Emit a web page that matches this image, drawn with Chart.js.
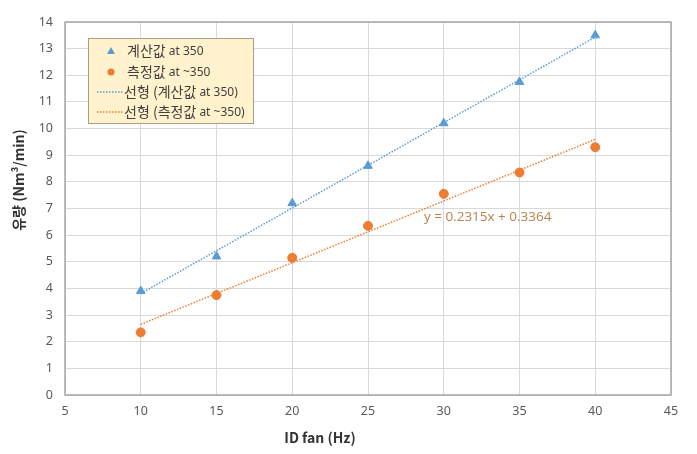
<!DOCTYPE html>
<html>
<head>
<meta charset="utf-8">
<script src="https://cdn.jsdelivr.net/npm/chart.js@4/dist/chart.umd.min.js"></script>
<style>
html,body{margin:0;padding:0;background:#fff;}
#wrap{width:697px;height:454px;position:relative;}
</style>
</head>
<body>
<div id="wrap"><canvas id="c" width="697" height="454"></canvas></div>
<script>
// ---- data ----
const fanHz = [10, 15, 20, 25, 30, 35, 40];
const calcValues = [3.9, 5.2, 7.2, 8.6, 10.2, 11.75, 13.5];   // 계산값 at 350
const measValues = [2.35, 3.75, 5.15, 6.35, 7.55, 8.35, 9.3]; // 측정값 at ~350
const xTicks = [5, 10, 15, 20, 25, 30, 35, 40, 45];
const yTicks = [0,1,2,3,4,5,6,7,8,9,10,11,12,13,14];
const measSlope = 0.2315;
const measIntercept = 0.3364;
const eqLabel = 'y = 0.2315x + 0.3364';
const seriesNames = ['계산값 at 350', '측정값 at ~350', '선형 (계산값 at 350)', '선형 (측정값 at ~350)'];

const BLUE = '#5B9BD5', ORANGE = '#ED7D31';

function linfit(xs, ys){
  const n = xs.length;
  const mx = xs.reduce((a,b)=>a+b,0)/n, my = ys.reduce((a,b)=>a+b,0)/n;
  let sxy=0, sxx=0;
  for(let i=0;i<n;i++){ sxy+=(xs[i]-mx)*(ys[i]-my); sxx+=(xs[i]-mx)**2; }
  const m = sxy/sxx; return {m, b: my-m*mx};
}
const calcFit = linfit(fanHz, calcValues);
const xMin = fanHz[0], xMax = fanHz[fanHz.length-1];

const legendPlugin = {
  id:'customLegend',
  afterDraw(chart){
    const ctx = chart.ctx;
    ctx.save();
    const bx=88, by=38, bw=165, bh=85;
    ctx.fillStyle='#FFF2CC';
    ctx.fillRect(bx,by,bw,bh);
    ctx.strokeStyle='#A69F88';
    ctx.lineWidth=1;
    ctx.strokeRect(bx+0.5,by+0.5,bw,bh);
    const rows=[51,72,92,112];
    const items=[
      {kind:'tri',color:BLUE,ko:'계산값',rest:' at 350'},
      {kind:'dot',color:ORANGE,ko:'측정값',rest:' at ~350'},
      {kind:'line',color:BLUE,ko:'선형 (계산값',rest:' at 350)'},
      {kind:'line',color:ORANGE,ko:'선형 (측정값',rest:' at ~350)'}
    ];
    items.forEach((it,i)=>{
      const y=rows[i];
      ctx.fillStyle=it.color; ctx.strokeStyle=it.color;
      if(it.kind==='tri'){
        ctx.beginPath(); ctx.moveTo(111,y-4); ctx.lineTo(115,y+3); ctx.lineTo(107,y+3); ctx.closePath(); ctx.fill();
      } else if(it.kind==='dot'){
        ctx.beginPath(); ctx.arc(111,y,3.5,0,Math.PI*2); ctx.fill();
      } else {
        ctx.setLineDash([1.5,1.5]); ctx.lineWidth=1.5;
        ctx.beginPath(); ctx.moveTo(97,y); ctx.lineTo(123,y); ctx.stroke(); ctx.setLineDash([]);
      }
      ctx.fillStyle='#404040';
      ctx.textBaseline='middle'; ctx.textAlign='left';
      ctx.font='14px "Noto Sans CJK KR"';
      const tx = it.kind==='line' ? 124 : 127;
      ctx.fillText(it.ko, tx, y);
      const w = ctx.measureText(it.ko).width;
      ctx.font='12px "Noto Sans"';
      ctx.fillText(it.rest, tx+w, y+1);
    });
    const xs = chart.scales.x, ys = chart.scales.y;
    ctx.fillStyle='#B8844A';
    ctx.font='13.5px "Open Sans"';
    ctx.textAlign='center';
    ctx.fillText(eqLabel, xs.getPixelForValue(32.9), ys.getPixelForValue(6.68));
    ctx.fillStyle='#333333';
    ctx.font='bold 14px "Noto Sans CJK KR"';
    ctx.fillText('ID fan (Hz)', 320, 438);
    ctx.translate(19,180); ctx.rotate(-Math.PI/2);
    ctx.fillText('유량 (Nm³/min)', 0, 0);
    ctx.restore();
  }
};

const borderPlugin = {
  id:'plotBorder',
  beforeDatasetsDraw(chart){
    const {left,right,top,bottom}=chart.chartArea;
    const ctx=chart.ctx; ctx.save();
    ctx.strokeStyle='#A6A6A6'; ctx.lineWidth=1.5;
    ctx.strokeRect(left,top,right-left,bottom-top);
    ctx.restore();
  }
};

new Chart(document.getElementById('c'), {
  type:'scatter',
  data:{
    datasets:[
      {label:seriesNames[0], data:fanHz.map((x,i)=>({x, y:calcValues[i]})), backgroundColor:BLUE, borderColor:BLUE, pointStyle:'triangle', pointRadius:5, order:1},
      {label:seriesNames[1], data:fanHz.map((x,i)=>({x, y:measValues[i]})), backgroundColor:ORANGE, borderColor:ORANGE, pointStyle:'circle', pointRadius:4.5, order:1},
      {label:seriesNames[2], type:'line', data:[{x:xMin,y:calcFit.m*xMin+calcFit.b},{x:xMax,y:calcFit.m*xMax+calcFit.b}], borderColor:BLUE, borderWidth:1.5, borderDash:[1.5,1.5], pointRadius:0, fill:false, order:2},
      {label:seriesNames[3], type:'line', data:[{x:xMin,y:measSlope*xMin+measIntercept},{x:xMax,y:measSlope*xMax+measIntercept}], borderColor:ORANGE, borderWidth:1.5, borderDash:[1.5,1.5], pointRadius:0, fill:false, order:2}
    ]
  },
  options:{
    responsive:false, animation:false,
    layout:{padding:{left:0,right:26,top:22,bottom:0}},
    plugins:{legend:{display:false}, tooltip:{enabled:false}},
    scales:{
      x:{type:'linear', min:5, max:45,
        afterBuildTicks(s){ s.ticks = xTicks.map(v=>({value:v})); },
        afterFit(s){ s.height = 59; },
        grid:{color:'#D9D9D9', drawTicks:false},
        border:{display:false},
        ticks:{padding:9, color:'#595959', font:{family:'"Noto Sans"', size:12.5}}
      },
      y:{type:'linear', min:0, max:14,
        afterBuildTicks(s){ s.ticks = yTicks.map(v=>({value:v})); },
        afterFit(s){ s.width = 65; },
        grid:{color:'#D9D9D9', drawTicks:false},
        border:{display:false},
        ticks:{padding:12, color:'#595959', font:{family:'"Noto Sans"', size:12.5}}
      }
    }
  },
  plugins:[borderPlugin, legendPlugin]
});
</script>
</body>
</html>
